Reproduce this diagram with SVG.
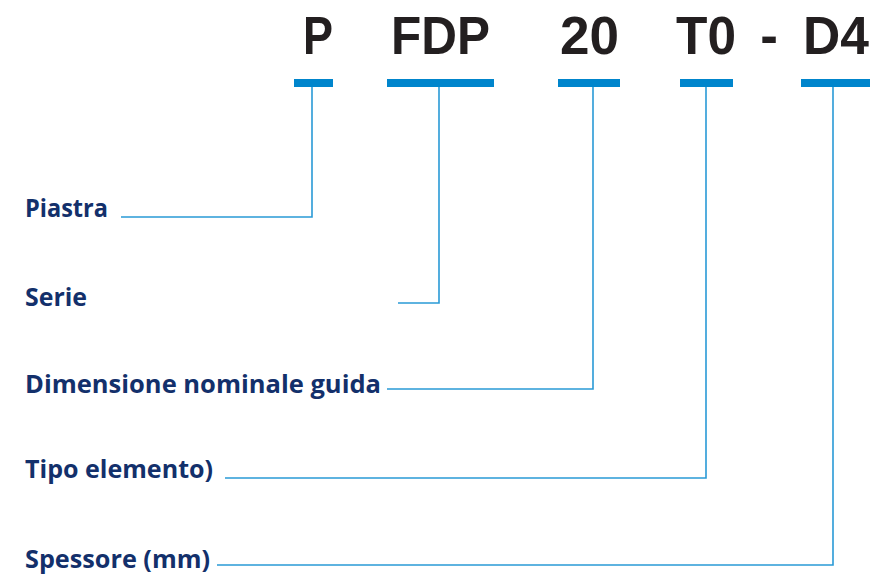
<svg xmlns="http://www.w3.org/2000/svg" width="874" height="578" viewBox="0 0 874 578">
<style>
.code{font-family:"Liberation Sans","Open Sans",sans-serif;font-weight:700;font-size:53px;fill:#231f20;text-anchor:middle}
.bar{fill:#0085cc}
.lbl{font-family:"Open Sans","Liberation Sans",sans-serif;font-weight:700;font-size:25px;fill:#13306b}
.con{fill:none;stroke:#2a9ad6;stroke-width:1.6}
</style>
<rect width="874" height="578" fill="#ffffff"/>
<g id="code-P"><text class="code" x="318" y="54" textLength="30" lengthAdjust="spacingAndGlyphs">P</text><rect class="bar" x="294" y="79" width="39" height="8"/></g>
<g id="code-FDP"><text class="code" x="440.5" y="54" textLength="99" lengthAdjust="spacingAndGlyphs">FDP</text><rect class="bar" x="387" y="79" width="107" height="8"/></g>
<g id="code-20"><text class="code" x="589.5" y="54" textLength="59" lengthAdjust="spacingAndGlyphs">20</text><rect class="bar" x="558" y="79" width="62" height="8"/></g>
<g id="code-T0"><text class="code" x="706" y="54" textLength="60" lengthAdjust="spacingAndGlyphs">T0</text><rect class="bar" x="680" y="79" width="53" height="8"/></g>
<g id="code-dash"><text class="code" x="769" y="54">-</text></g>
<g id="code-D4"><text class="code" x="836" y="54" textLength="66" lengthAdjust="spacingAndGlyphs">D4</text><rect class="bar" x="801" y="79" width="69" height="8"/></g>
<g id="label-piastra"><text class="lbl" x="25" y="217" textLength="83" lengthAdjust="spacingAndGlyphs">Piastra</text></g>
<g id="label-serie"><text class="lbl" x="25" y="306" textLength="62" lengthAdjust="spacingAndGlyphs">Serie</text></g>
<g id="label-dimensione"><text class="lbl" x="25" y="393" textLength="356" lengthAdjust="spacingAndGlyphs">Dimensione nominale guida</text></g>
<g id="label-tipo"><text class="lbl" x="25" y="478" textLength="188" lengthAdjust="spacingAndGlyphs">Tipo elemento)</text></g>
<g id="label-spessore"><text class="lbl" x="25" y="568" textLength="185" lengthAdjust="spacingAndGlyphs">Spessore (mm)</text></g>
<g id="connectors">
<polyline class="con" points="312,87 312,217 121,217"/>
<polyline class="con" points="439,87 439,303 398,303"/>
<polyline class="con" points="593,87 593,389 387,389"/>
<polyline class="con" points="706,87 706,478 225,478"/>
<polyline class="con" points="833,87 833,565 217,565"/>
</g>
</svg>
